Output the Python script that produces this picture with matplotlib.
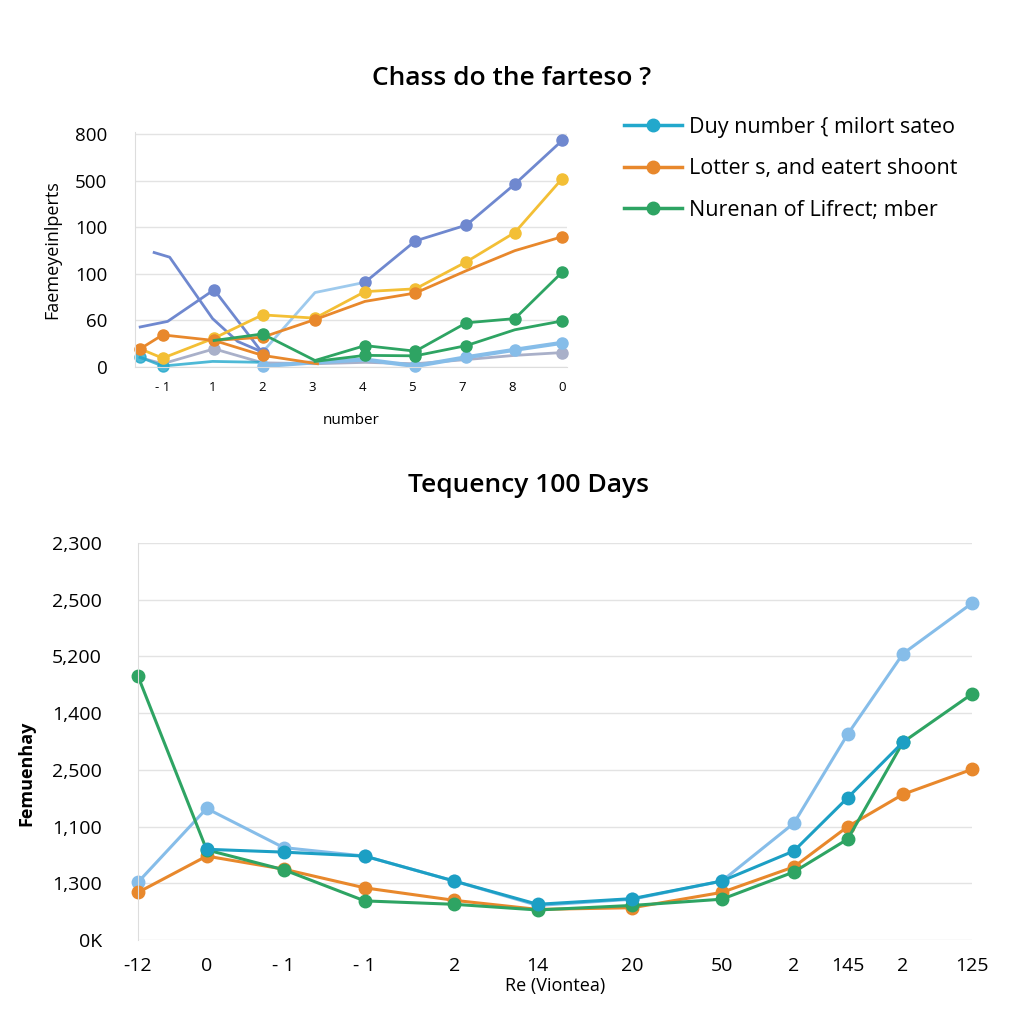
import numpy as np
import matplotlib
matplotlib.use("Agg")
import matplotlib.pyplot as plt

plt.rcParams['font.family'] = ['Open Sans', 'DejaVu Sans']

# ---- top chart data (grid units, labels are the odd tick texts) ----
top_xticks = ["- 1", "1", "2", "3", "4", "5", "7", "8", "0"]
top_yticks = ["0", "60", "100", "100", "500", "800"]

x_full = [-0.45, 0.0, 1.03, 2.0, 3.05, 4.05, 5.06, 6.08, 7.05, 8.0]
yellow = [0.39, 0.19, 0.62, 1.12, 1.05, 1.62, 1.68, 2.26, 2.89, 4.05]
orange = [0.39, 0.69, 0.57, 0.64, 1.02, 1.41, 1.59, 2.07, 2.50, 2.80]
gray = [0.20, 0.07, 0.39, 0.09, 0.07, 0.10, 0.07, 0.16, 0.25, 0.31]

purple_a_x = [-0.45, 0.1, 1.03, 2.0]
purple_a_y = [0.86, 0.98, 1.66, 0.30]
purple_b_x = [-0.17, 0.14, 1.0, 1.5, 2.0]
purple_b_y = [2.46, 2.36, 1.04, 0.55, 0.32]
purple_c_x = [4.05, 5.06, 6.08, 7.05, 8.0]
purple_c_y = [1.82, 2.71, 3.05, 3.93, 4.87]

ltblue_x = [2.0, 3.05, 4.05]
ltblue_y = [0.32, 1.60, 1.82]

orange2_x = [1.03, 2.0, 3.1]
orange2_y = [0.57, 0.25, 0.07]

green1_x = [1.03, 2.0, 3.05, 4.05, 5.06, 6.08, 7.05, 8.0]
green1_y = [0.57, 0.71, 0.14, 0.46, 0.34, 0.95, 1.04, 2.04]
green2_x = [3.05, 4.05, 5.06, 6.08, 7.05, 8.0]
green2_y = [0.12, 0.25, 0.24, 0.46, 0.80, 0.99]

cyan_x = [-0.45, 0.0, 1.0, 2.0]
cyan_y = [0.21, 0.02, 0.12, 0.10]
skyblue_x = [2.0, 3.05, 4.05, 5.06, 6.08, 7.05, 8.0]
skyblue_y = [0.02, 0.10, 0.16, 0.02, 0.21, 0.37, 0.52]

legend_labels = ["Duy number { milort sateo",
                 "Lotter s, and eatert shoont",
                 "Nurenan of Lifrect; mber"]

# ---- bottom chart data ----
bot_xticks = ["-12", "0", "- 1", "- 1", "2", "14", "20", "50", "2", "145", "2", "125"]
bot_yticks = ["0K", "1,300", "1,100", "2,500", "1,400", "5,200", "2,500", "2,300"]
bx = [0, 0.905, 1.92, 2.99, 4.17, 5.27, 6.52, 7.70, 8.65, 9.36, 10.09, 11.0]

b_light = [1.02, 2.32, 1.63, 1.48, 1.04, 0.61, 0.72, 1.04, 2.06, 3.63, 5.05, 5.94]
b_teal = [None, 1.60, 1.55, 1.48, 1.04, 0.63, 0.73, 1.04, 1.57, 2.51, 3.49, None]
b_orange = [0.84, 1.48, 1.25, 0.92, 0.70, 0.54, 0.57, 0.84, 1.29, 2.00, 2.57, 3.01]
b_green = [4.65, 1.59, 1.24, 0.69, 0.63, 0.53, 0.61, 0.72, 1.20, 1.78, 3.49, 4.34]

C_PURPLE = "#6f88cf"
C_YELLOW = "#f3bf35"
C_ORANGE = "#e8882c"
C_GREEN = "#2ea463"
C_CYAN = "#22a8cc"
C_SKY = "#86bde9"
C_GRAY = "#a9b0c9"
C_TEAL = "#1c9fc4"

fig = plt.figure(figsize=(10.24, 10.24), dpi=100)

# ================= top chart =================
ax = fig.add_axes([0.132, 0.6416, 0.422, 0.2295])
lw = 2.0
ms = 8
kw = dict(lw=lw, clip_on=False)

ax.plot(x_full, gray, color=C_GRAY, marker='o', ms=ms, markevery=[2, 9], **kw)
ax.plot(cyan_x, cyan_y, color=C_CYAN, marker='o', ms=ms, markevery=[0, 1], alpha=0.8, **kw)
ax.plot(skyblue_x, skyblue_y, color=C_SKY, marker='o', ms=ms, markevery=[0, 3, 4, 5, 6], lw=3, clip_on=False)
ax.plot(ltblue_x, ltblue_y, color=C_SKY, lw=lw, alpha=0.8, clip_on=False)
ax.plot(purple_a_x, purple_a_y, color=C_PURPLE, marker='o', ms=ms, markevery=[2, 3], **kw)
ax.plot(purple_b_x, purple_b_y, color=C_PURPLE, **kw)
ax.plot(purple_c_x, purple_c_y, color=C_PURPLE, marker='o', ms=ms, **kw)
ax.plot(x_full, yellow, color=C_YELLOW, marker='o', ms=ms, markevery=[1, 2, 3, 4, 5, 6, 7, 8, 9], **kw)
ax.plot(orange2_x, orange2_y, color=C_ORANGE, marker='o', ms=ms, markevery=[1], **kw)
ax.plot(x_full, orange, color=C_ORANGE, marker='o', ms=ms, markevery=[0, 1, 2, 3, 4, 6, 9], **kw)
ax.plot(green1_x, green1_y, color=C_GREEN, marker='o', ms=ms, markevery=[1, 3, 4, 5, 6, 7], **kw)
ax.plot(green2_x, green2_y, color=C_GREEN, marker='o', ms=ms, markevery=[1, 2, 3, 5], **kw)

ax.set_xlim(-0.55, 8.1)
ax.set_ylim(0, 5.05)
ax.set_yticks(range(len(top_yticks)))
ax.set_yticklabels(top_yticks, fontsize=13.5)
ax.set_xticks(range(len(top_xticks)))
ax.set_xticklabels(top_xticks, fontsize=9.5)
ax.tick_params(length=0, pad=10)
ax.tick_params(axis='y', pad=20)
ax.grid(axis='y', color='#e3e3e3', lw=1)
ax.set_axisbelow(True)
for s in ["top", "right"]:
    ax.spines[s].set_visible(False)
ax.spines["left"].set_color("#dddddd")
ax.spines["bottom"].set_color("#dddddd")
ax.set_xlabel("number", fontsize=11, labelpad=14)
ax.set_ylabel("Faemeyeinlperts", fontsize=13)
ax.yaxis.set_label_coords(-0.17, 0.5)

fig.text(0.5, 0.923, "Chass do the fartesо ?", ha='center', va='center',
         fontsize=19, fontweight='semibold')

handles = [
    plt.Line2D([], [], color=C_CYAN, marker='o', ms=9, lw=2.5),
    plt.Line2D([], [], color=C_ORANGE, marker='o', ms=9, lw=2.5),
    plt.Line2D([], [], color=C_GREEN, marker='o', ms=9, lw=2.5),
]
fig.legend(handles, legend_labels, loc='upper left', bbox_to_anchor=(0.59, 0.905),
           frameon=False, fontsize=15.5, handlelength=2.7, labelspacing=0.95,
           handletextpad=0.35)

# ================= bottom chart =================
ax2 = fig.add_axes([0.1348, 0.082, 0.8145, 0.3877])

def plot_series(ys, color, **extra):
    xs = [x for x, y in zip(bx, ys) if y is not None]
    vs = [y for y in ys if y is not None]
    ax2.plot(xs, vs, color=color, marker='o', ms=9, lw=2.2, clip_on=False, **extra)

plot_series(b_light, C_SKY)
plot_series(b_orange, C_ORANGE)
plot_series(b_green, C_GREEN)
plot_series(b_teal, C_TEAL)

ax2.set_xlim(0, 11)
ax2.set_ylim(0, 7)
ax2.set_yticks(range(len(bot_yticks)))
ax2.set_yticklabels(bot_yticks, fontsize=14)
ax2.set_xticks(bx)
ax2.set_xticklabels(bot_xticks, fontsize=14)
ax2.tick_params(length=0)
ax2.tick_params(axis='y', pad=26)
ax2.tick_params(axis='x', pad=12)
ax2.grid(axis='y', color='#e3e3e3', lw=1)
ax2.set_axisbelow(True)
for s in ["top", "right", "bottom"]:
    ax2.spines[s].set_visible(False)
ax2.spines["left"].set_color("#dddddd")
ax2.set_xlabel("Re (Viontea)", fontsize=13, labelpad=2)
ax2.set_ylabel("Femuenhay", fontsize=13, fontweight='bold')
ax2.yaxis.set_label_coords(-0.123, 0.42)

fig.text(0.516, 0.526, "Tequency 100 Days", ha='center', va='center',
         fontsize=19, fontweight='semibold')

fig.savefig("out.png", dpi=100, facecolor='white')
